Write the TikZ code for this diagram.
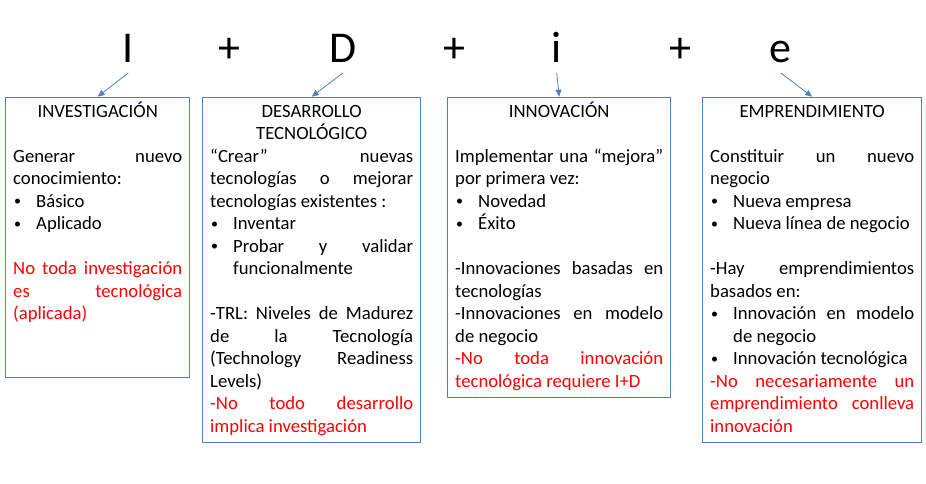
\documentclass[tikz,border=0pt]{standalone}
\usepackage{fontspec}
\usepackage{graphicx}
\setmainfont{Carlito}
\usetikzlibrary{arrows.meta}
\definecolor{boxblue}{HTML}{4F81BD}
\definecolor{txtred}{HTML}{FF0000}
\newcommand{\bitem}{\par\hangindent=23pt\hangafter=1\noindent\makebox[23pt][l]{\hspace{1pt}\raisebox{1.2pt}{\scalebox{0.75}{•}}}}
\newcommand{\cellbody}[3]{\parbox[c][#2][t]{#1}{\fontsize{18.7}{22.5}\selectfont\tolerance=10000\hyphenpenalty=10000\exhyphenpenalty=10000\parindent=0pt\parskip=0pt\relax #3}}
\tikzset{
  letter/.style={font=\fontsize{44}{50}\selectfont, anchor=base, inner xsep=0pt, inner ysep=9.7pt, text depth=0pt},
  cell/.style={draw=boxblue, line width=0.8pt, inner xsep=7.5pt, inner ysep=0pt, anchor=north west},
  conn/.style={draw=boxblue, line width=0.8pt, -{Triangle[length=7pt,width=6pt]}}
}
\begin{document}
\begin{tikzpicture}[x=1pt,y=-1pt]
\useasboundingbox (0,0) rectangle (926,484);
\node[letter] (I) at (128.3,63) {I};
\node[letter] (p1) at (229,63) {+};
\node[letter] (D) at (343,63) {D};
\node[letter] (p2) at (454,63) {+};
\node[letter] (i) at (556.7,63) {i};
\node[letter] (p3) at (680,63) {+};
\node[letter] (e) at (780.7,63) {e};

\node[cell] (inv) at (5.3,96.7) {\cellbody{169pt}{280pt}{%
{\centering\rule{0pt}{20pt}INVESTIGACIÓN\par}
\mbox{}\par
Generar nuevo\linebreak conocimiento:
\bitem Básico
\bitem Aplicado
\par\mbox{}\par
{\color{txtred}No toda investigación\linebreak es tecnológica\linebreak (aplicada)\par}
}};

\node[cell] (des) at (202.3,96.7) {\cellbody{203pt}{345.6pt}{%
{\centering\rule{0pt}{20pt}DESARROLLO\\TECNOLÓGICO\par}
“Crear” nuevas\linebreak tecnologías o mejorar\linebreak tecnologías existentes :
\bitem Inventar
\bitem Probar y validar\linebreak funcionalmente
\par\mbox{}\par
-TRL: Niveles de Madurez\linebreak de la Tecnología\linebreak (Technology Readiness\linebreak Levels)\par
{\color{txtred}-No todo desarrollo\linebreak implica investigación\par}
}};

\node[cell] (inn) at (447.3,96.7) {\cellbody{208pt}{300pt}{%
{\centering\rule{0pt}{20pt}INNOVACIÓN\par}
\mbox{}\par
Implementar una “mejora”\linebreak por primera vez:
\bitem Novedad
\bitem Éxito
\par\mbox{}\par
-Innovaciones basadas en\linebreak tecnologías\par
-Innovaciones en modelo\linebreak de negocio\par
{\color{txtred}-No toda innovación\linebreak tecnológica requiere I+D\par}
}};

\node[cell] (emp) at (702.3,96.7) {\cellbody{204pt}{345pt}{%
{\centering\rule{0pt}{20pt}EMPRENDIMIENTO\par}
\mbox{}\par
Constituir un nuevo\linebreak negocio
\bitem Nueva empresa
\bitem Nueva línea de negocio
\par\mbox{}\par
-Hay emprendimientos\linebreak basados en:
\bitem Innovación en modelo\linebreak de negocio
\bitem Innovación tecnológica
\par
{\color{txtred}-No necesariamente un\linebreak emprendimiento conlleva\linebreak innovación\par}
}};

\draw[conn] (I.south) -- (inv.north);
\draw[conn] (D.south) -- (des.north);
\draw[conn] (i.south) -- (inn.north);
\draw[conn] (e.south) -- (emp.north);
\end{tikzpicture}
\end{document}
